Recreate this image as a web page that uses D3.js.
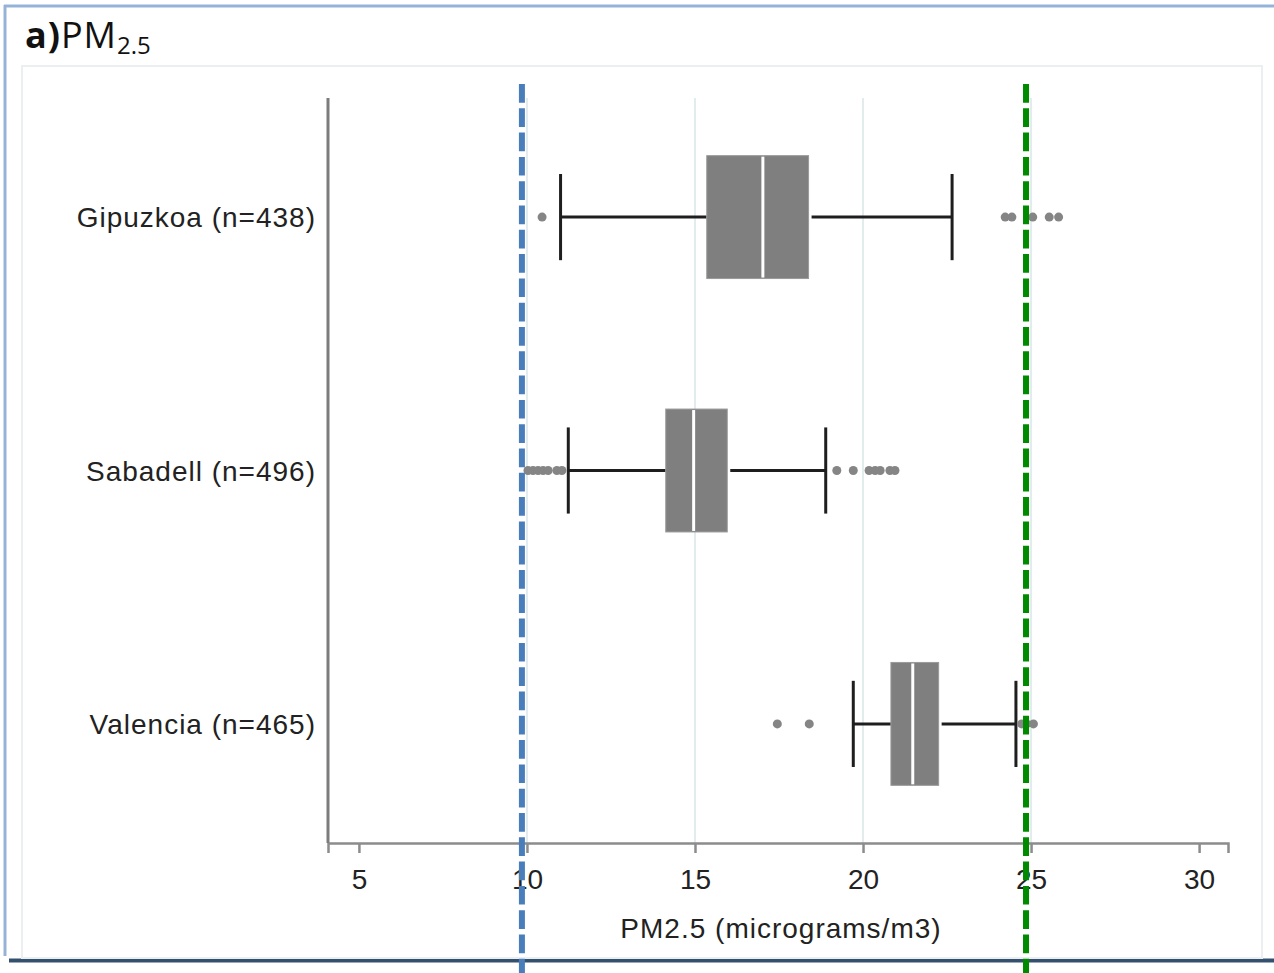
<!DOCTYPE html>
<html>
<head>
<meta charset="utf-8">
<script src="https://cdn.jsdelivr.net/npm/d3@7"></script>
<style>
  body { margin: 0; background: #fff; }
  text { font-family: "Liberation Sans", Arial, sans-serif; fill: #222; }
</style>
</head>
<body>
<div class="chart"></div>
<script>
// chart size
var svgWidth = 1274;
var svgHeight = 973;

// plot area (pixels of the axes)
var plot = { left: 328, right: 1228, top: 98, bottom: 843 };

// DATA
var sites = ["Gipuzkoa (n=438)", "Sabadell (n=496)", "Valencia (n=465)"];
var whiskerLow = [11.0, 11.23, 19.71];
var q1 = [15.35, 14.13, 20.83];
var median = [17.02, 14.96, 21.48];
var q3 = [18.38, 15.96, 22.25];
var whiskerHigh = [22.65, 18.89, 24.55];
var outliers = [
  [10.45, 24.23, 24.43, 25.05, 25.54, 25.82],
  [10.03, 10.18, 10.33, 10.48, 10.63, 10.89, 11.04, 19.22, 19.71, 20.18, 20.36, 20.51, 20.8, 20.95],
  [17.45, 18.4, 24.72, 24.87, 25.07]
];
var xTicks = [5, 10, 15, 20, 25, 30];
var gridTicks = [10, 15, 20, 25];
var guideValues = [9.85, 24.85];
var guideColors = ["#4a7ebb", "#008a00"];

var svg = d3.select(".chart")
  .append("svg")
  .attr("width", svgWidth)
  .attr("height", svgHeight);

// page frame (blue top/left, dark bottom)
svg.append("line")
  .attr("x1", 4).attr("x2", svgWidth).attr("y1", 6).attr("y2", 6)
  .attr("stroke", "#95b3d7").attr("stroke-width", 3);
svg.append("line")
  .attr("x1", 5).attr("x2", 5).attr("y1", 5).attr("y2", 956)
  .attr("stroke", "#95b3d7").attr("stroke-width", 3);
svg.append("line")
  .attr("x1", 9).attr("x2", svgWidth).attr("y1", 960.5).attr("y2", 960.5)
  .attr("stroke", "#34506f").attr("stroke-width", 4);

// faint panel around the figure
svg.append("rect")
  .attr("x", 22).attr("y", 66).attr("width", 1240).attr("height", 892)
  .attr("fill", "none").attr("stroke", "#eceff0").attr("stroke-width", 2);

// title a)PM2.5
var title = svg.append("text")
  .attr("x", 25).attr("y", 48)
  .style("font-family", "'Open Sans', sans-serif")
  .style("font-size", "36px")
  .style("letter-spacing", "1px")
  .style("fill", "#111");
title.append("tspan").style("font-weight", "bold").text("a)");
title.append("tspan").text("PM");
title.append("tspan").attr("dy", 6).style("font-size", "24px").style("letter-spacing", "0px").text("2.5");

// scales
var xScale = d3.scaleLinear()
  .domain([4.08, 30.86])
  .range([plot.left, plot.right]);

var yScale = d3.scalePoint()
  .domain(sites)
  .range([plot.top, plot.bottom])
  .padding(0.47);

var step = yScale.step();

// vertical grid lines
svg.append("g").selectAll("line")
  .data(gridTicks)
  .enter()
  .append("line")
  .attr("x1", d => xScale(d)).attr("x2", d => xScale(d))
  .attr("y1", plot.top).attr("y2", plot.bottom)
  .attr("stroke", "#e3ecec").attr("stroke-width", 2);

// x axis
var bottomAxis = d3.axisBottom(xScale)
  .tickValues(xTicks)
  .tickSize(10)
  .tickPadding(16)
  .tickFormat(d3.format("d"));

var xAxis = svg.append("g")
  .attr("transform", `translate(0, ${plot.bottom})`)
  .call(bottomAxis);
xAxis.select(".domain").attr("stroke", "#8c8c8c").attr("stroke-width", 2.5);
xAxis.selectAll(".tick line").attr("stroke", "#8c8c8c").attr("stroke-width", 2.5);
xAxis.selectAll(".tick text")
  .style("font-size", "28px")
  .style("font-family", "'Liberation Sans', Arial, sans-serif")
  .attr("fill", "#222");

// y axis line (no ticks)
svg.append("line")
  .attr("x1", plot.left).attr("x2", plot.left)
  .attr("y1", plot.top).attr("y2", plot.bottom)
  .attr("stroke", "#7c7c7c").attr("stroke-width", 3);

// category labels
svg.append("g").selectAll("text")
  .data(sites)
  .enter()
  .append("text")
  .attr("x", 316)
  .attr("y", d => yScale(d))
  .attr("dy", "0.36em")
  .attr("text-anchor", "end")
  .style("font-size", "28px")
  .style("letter-spacing", "1px")
  .text(d => d);

// axis title
svg.append("text")
  .attr("x", (plot.left + plot.right) / 2 + 3)
  .attr("y", 938)
  .attr("text-anchor", "middle")
  .style("font-size", "28px")
  .style("letter-spacing", "1px")
  .text("PM2.5 (micrograms/m3)");

// boxes
var boxH = step * 0.485;
var capH = step * 0.34;

var boxes = svg.append("g").selectAll("g")
  .data(sites)
  .enter()
  .append("g");

// whiskers
boxes.append("line")
  .attr("x1", (d, i) => xScale(whiskerLow[i]))
  .attr("x2", (d, i) => xScale(q1[i]))
  .attr("y1", d => yScale(d)).attr("y2", d => yScale(d))
  .attr("stroke", "#1e1e1e").attr("stroke-width", 3);
boxes.append("line")
  .attr("x1", (d, i) => xScale(q3[i]) + 3)
  .attr("x2", (d, i) => xScale(whiskerHigh[i]))
  .attr("y1", d => yScale(d)).attr("y2", d => yScale(d))
  .attr("stroke", "#1e1e1e").attr("stroke-width", 3);

// caps
boxes.append("line")
  .attr("x1", (d, i) => xScale(whiskerLow[i]))
  .attr("x2", (d, i) => xScale(whiskerLow[i]))
  .attr("y1", d => yScale(d) - capH / 2).attr("y2", d => yScale(d) + capH / 2)
  .attr("stroke", "#1e1e1e").attr("stroke-width", 3);
boxes.append("line")
  .attr("x1", (d, i) => xScale(whiskerHigh[i]))
  .attr("x2", (d, i) => xScale(whiskerHigh[i]))
  .attr("y1", d => yScale(d) - capH / 2).attr("y2", d => yScale(d) + capH / 2)
  .attr("stroke", "#1e1e1e").attr("stroke-width", 3);

// interquartile box
boxes.append("rect")
  .attr("x", (d, i) => xScale(q1[i]))
  .attr("y", d => yScale(d) - boxH / 2)
  .attr("width", (d, i) => xScale(q3[i]) - xScale(q1[i]))
  .attr("height", boxH)
  .attr("fill", "#7f7f7f")
  .attr("stroke", "#9a9a9a").attr("stroke-width", 1);

// median
boxes.append("line")
  .attr("x1", (d, i) => xScale(median[i]))
  .attr("x2", (d, i) => xScale(median[i]))
  .attr("y1", d => yScale(d) - boxH / 2 + 1).attr("y2", d => yScale(d) + boxH / 2 - 1)
  .attr("stroke", "#fff").attr("stroke-width", 3);

// outlier dots
boxes.each(function(site, i) {
  d3.select(this).selectAll("circle")
    .data(outliers[i])
    .enter()
    .append("circle")
    .attr("cx", d => xScale(d))
    .attr("cy", yScale(site))
    .attr("r", 4.5)
    .attr("fill", "#858585");
});

// guideline dashed lines (drawn over the plot, reaching below)
svg.append("g").selectAll("line")
  .data(guideValues)
  .enter()
  .append("line")
  .attr("x1", d => xScale(d)).attr("x2", d => xScale(d))
  .attr("y1", 84).attr("y2", svgHeight)
  .attr("stroke", (d, i) => guideColors[i])
  .attr("stroke-width", 6)
  .attr("stroke-dasharray", "18.7 5.6");
</script>
</body>
</html>
